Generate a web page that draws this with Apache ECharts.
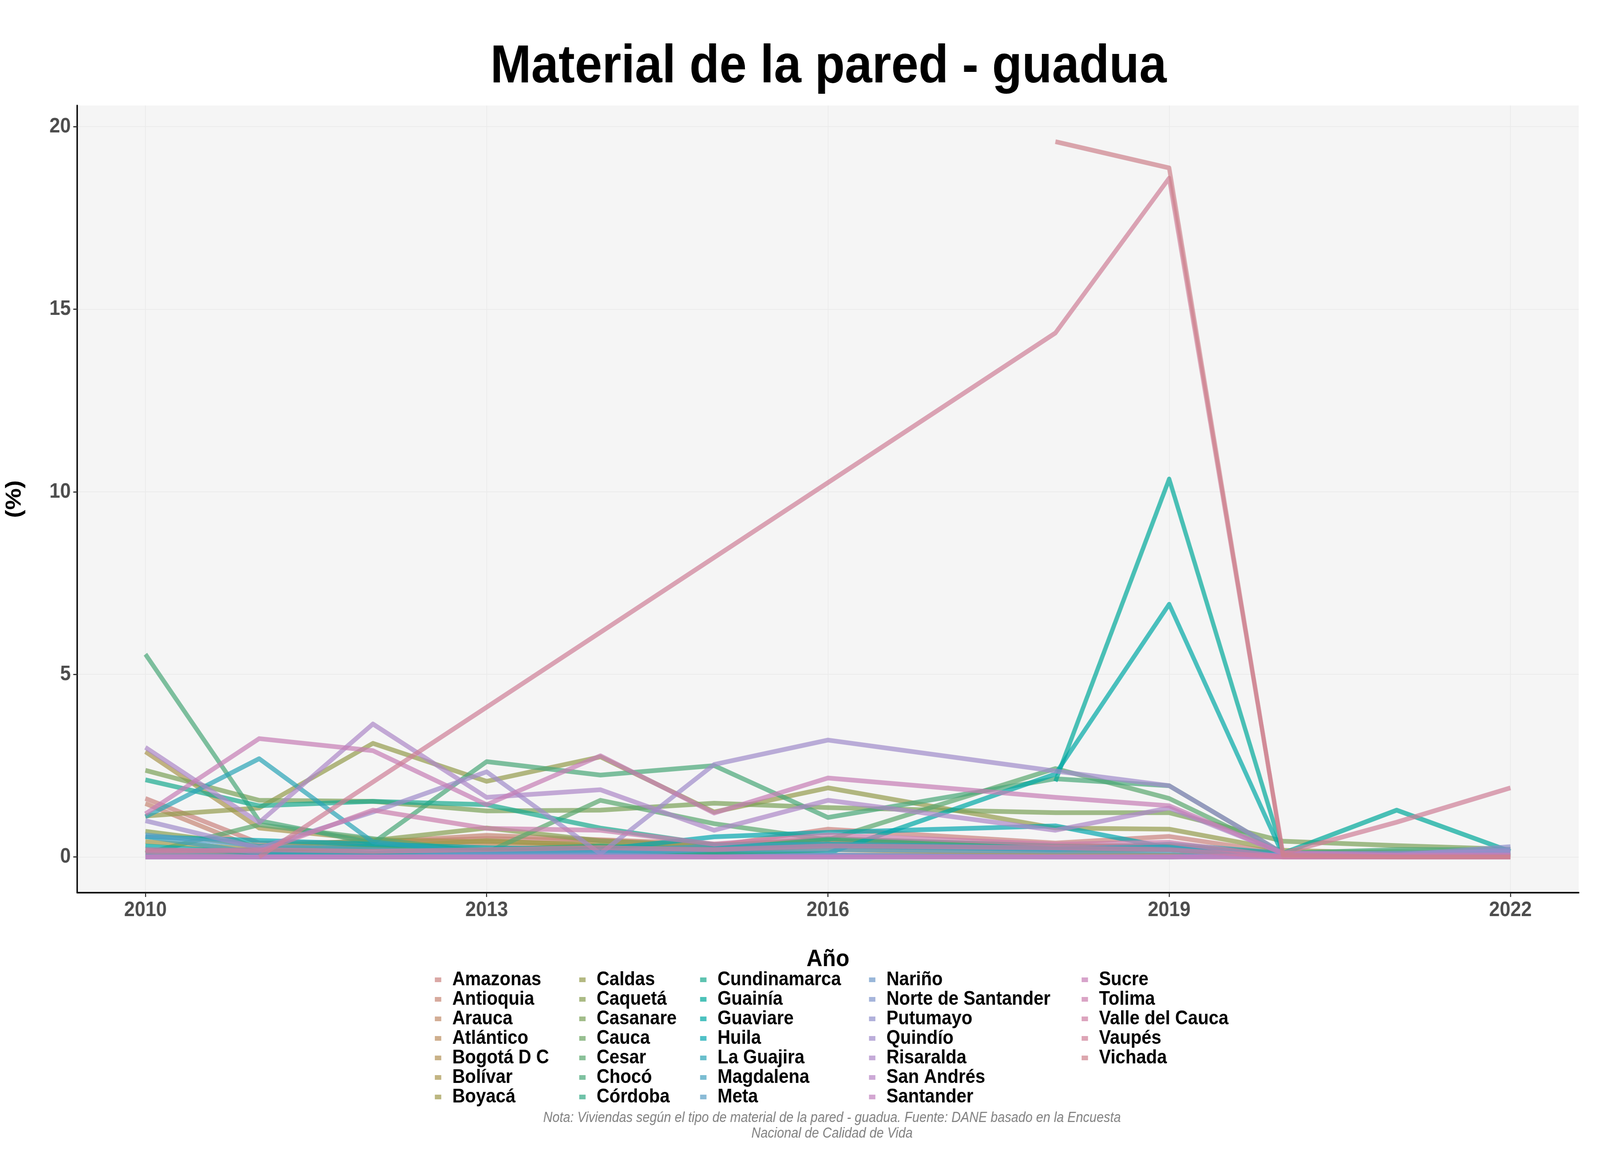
<!DOCTYPE html>
<html>
<head>
<meta charset="utf-8">
<script src="https://cdn.jsdelivr.net/npm/echarts@6/dist/echarts.min.js"></script>
<style>
html,body{margin:0;padding:0;background:#ffffff;overflow:hidden;width:100%;height:100%;}
#wrap{position:absolute;left:0;top:0;width:100vw;height:100vh;overflow:hidden;background:#ffffff;}
#chart{position:absolute;left:0;top:0;width:4500px;height:3000px;transform-origin:0 0;}
</style>
</head>
<body>
<div id="wrap"><div id="chart"></div></div>
<script>
// ---------- DATA ----------
const years = [2010, 2011, 2012, 2013, 2014, 2015, 2016, 2018, 2019, 2020, 2021, 2022];
const departments = ["Amazonas","Antioquia","Arauca","Atlántico","Bogotá D C","Bolívar","Boyacá",
  "Caldas","Caquetá","Casanare","Cauca","Cesar","Chocó","Córdoba",
  "Cundinamarca","Guainía","Guaviare","Huila","La Guajira","Magdalena","Meta",
  "Nariño","Norte de Santander","Putumayo","Quindío","Risaralda","San Andrés","Santander",
  "Sucre","Tolima","Valle del Cauca","Vaupés","Vichada"];
const xTicks = [2010, 2013, 2016, 2019, 2022];
const yTicks = [0, 5, 10, 15, 20];

const vAmazonas     = [1.60, 0.38, 0.41, 0.50, 0.45, 0.30, 0.76, 0.38, 0.56, 0.10, 0.05, 0.05];
const vAntioquia    = [1.46, 0.20, 0.40, 0.59, 0.47, 0.35, 0.45, 0.30, 0.30, 0.08, 0.05, 0.05];
const vArauca       = [0.10, 0.15, 0.30, 0.35, 0.30, 0.25, 0.45, 0.30, 0.25, 0.05, 0.02, 0.02];
const vAtlantico    = [0.05, 0.05, 0.05, 0.05, 0.05, 0.05, 0.05, 0.05, 0.05, 0.02, 0.02, 0.02];
const vBogota       = [0.05, 0.05, 0.10, 0.20, 0.10, 0.05, 0.20, 0.10, 0.05, 0.02, 0.01, 0.01];
const vBolivar      = [2.88, 0.79, 0.47, 0.41, 0.35, 0.15, 0.30, 0.20, 0.20, 0.05, 0.05, 0.05];
const vBoyaca       = [0.42, 0.20, 0.25, 0.45, 0.30, 0.15, 0.35, 0.25, 0.20, 0.05, 0.05, 0.05];
const vCaldas       = [1.12, 1.34, 3.11, 2.07, 2.74, 1.23, 1.89, 0.79, 0.76, 0.18, 0.10, 0.10];
const vCaqueta      = [0.70, 0.30, 0.45, 0.79, 0.44, 0.30, 0.50, 0.30, 0.30, 0.10, 0.10, 0.10];
const vCasanare     = [2.37, 1.55, 1.52, 1.26, 1.28, 1.47, 1.35, 1.21, 1.21, 0.43, 0.31, 0.21];
const vCauca        = [0.20, 0.10, 0.25, 0.15, 0.20, 0.25, 0.30, 0.20, 0.20, 0.05, 0.10, 0.12];
const vCesar        = [0.10, 0.88, 0.50, 0.12, 1.55, 0.91, 0.47, 2.42, 1.60, 0.10, 0.15, 0.12];
const vChoco        = [5.55, 0.99, 0.38, 2.61, 2.24, 2.50, 1.08, 2.14, 1.95, 0.10, 0.20, 0.20];
const vCordoba      = [0.15, 0.20, 0.30, 0.20, 0.30, 0.20, 0.50, 0.30, 0.20, 0.05, 0.10, 0.10];
const vCundinamarca = [2.11, 1.40, 1.52, 1.43, 0.79, 0.33, 0.35, 0.25, 0.20, 0.05, 0.10, 0.10];
const vGuainia      = [null, null, null, null, null, null, null, 2.07, 10.35, 0.10, 1.28, 0.15];
const vGuaviare     = [0.30, 0.10, 0.05, 0.05, 0.10, 0.10, 0.10, 2.27, 6.92, 0.05, 0.05, 0.05];
const vHuila        = [0.55, 0.45, 0.35, 0.25, 0.20, 0.55, 0.67, 0.85, 0.25, 0.05, 0.05, 0.10];
const vLaGuajira    = [1.10, 2.69, 0.41, 0.10, 0.15, 0.20, 0.30, 0.20, 0.35, 0.10, 0.05, 0.05];
const vMagdalena    = [0.56, 0.10, 0.10, 0.10, 0.15, 0.30, 0.35, 0.25, 0.25, 0.05, 0.05, 0.05];
const vMeta         = [0.60, 0.30, 0.20, 0.10, 0.10, 0.20, 0.20, 0.15, 0.15, 0.05, 0.05, 0.10];
const vNarino       = [0.00, 0.00, 0.00, 0.05, 0.05, 0.00, 0.05, 0.00, 0.00, 0.05, 0.05, 0.15];
const vNorteSant    = [0.10, 0.00, 0.00, 0.00, 0.05, 0.00, 0.05, 0.00, 0.00, 0.05, 0.05, 0.20];
const vPutumayo     = [0.00, 0.00, 0.00, 0.00, 0.00, 0.00, 0.00, 0.00, 0.00, 0.05, 0.05, 0.28];
const vQuindio      = [0.99, 0.24, 1.23, 2.33, 0.09, 2.53, 3.20, 2.35, 1.95, 0.10, 0.10, 0.15];
const vRisaralda    = [3.00, 0.94, 3.64, 1.63, 1.84, 0.73, 1.55, 0.73, 1.34, 0.10, 0.05, 0.05];
const vSanAndres    = [0.00, 0.00, 0.00, 0.00, 0.00, 0.00, 0.00, 0.00, 0.00, 0.00, 0.00, 0.00];
const vSantander    = [0.00, 0.00, 0.00, 0.00, 0.00, 0.00, 0.00, 0.00, 0.00, 0.00, 0.00, 0.00];
const vSucre        = [1.18, 3.24, 2.91, 1.43, 2.77, 1.20, 2.16, 1.63, 1.40, 0.10, 0.05, 0.05];
const vTolima       = [0.20, 0.15, 1.28, 0.78, 0.73, 0.35, 0.60, 0.35, 0.40, 0.00, 0.00, 0.00];
const vValle        = [0.15, 0.20, 0.15, 0.20, 0.25, 0.20, 0.30, 0.25, 0.20, 0.00, 0.00, 0.00];
const vVaupes       = [null, 0.00, null, null, null, null, null, 14.35, 18.59, 0.10, 0.95, 1.89];
const vVichada      = [null, null, null, null, null, null, null, 19.59, 18.87, 0.05, 0.00, 0.00];

const seriesValues = [vAmazonas, vAntioquia, vArauca, vAtlantico, vBogota, vBolivar, vBoyaca,
  vCaldas, vCaqueta, vCasanare, vCauca, vCesar, vChoco, vCordoba,
  vCundinamarca, vGuainia, vGuaviare, vHuila, vLaGuajira, vMagdalena, vMeta,
  vNarino, vNorteSant, vPutumayo, vQuindio, vRisaralda, vSanAndres, vSantander,
  vSucre, vTolima, vValle, vVaupes, vVichada];

// ---------- COLOURS (HCL hue palette) ----------
function hcl(h, c, l) {
  const hr = h * Math.PI / 180;
  const u = c * Math.cos(hr), v = c * Math.sin(hr);
  const Y = l > 8 ? Math.pow((l + 16) / 116, 3) : l / 903.3;
  const un = 0.1978398, vn = 0.4683363;
  const up = u / (13 * l) + un, vp = v / (13 * l) + vn;
  const X = Y * 9 * up / (4 * vp);
  const Z = Y * (12 - 3 * up - 20 * vp) / (4 * vp);
  const lin = [
    3.2404542 * X - 1.5371385 * Y - 0.4985314 * Z,
    -0.9692660 * X + 1.8760108 * Y + 0.0415560 * Z,
    0.0556434 * X - 0.2040259 * Y + 1.0572252 * Z
  ];
  return '#' + lin.map(x => {
    x = Math.max(0, Math.min(1, x));
    const s = x <= 0.0031308 ? 12.92 * x : 1.055 * Math.pow(x, 1 / 2.4) - 0.055;
    return Math.round(s * 255).toString(16).padStart(2, '0');
  }).join('');
}
const n = departments.length;
const colors = departments.map((d, i) => hcl((15 + 360 * i / n) % 360, 50, 62));

// ---------- OPTION ----------
const series = departments.map((name, i) => ({
  name: name,
  type: 'line',
  data: years.map((y, k) => [y, seriesValues[i][k]]).filter(p => p[1] !== null),
  showSymbol: false,
  symbol: 'none',
  color: colors[i],
  itemStyle: { color: colors[i] },
  lineStyle: { width: 12, opacity: 0.7, join: 'round', cap: 'butt' },
  emphasis: { disabled: true },
  animation: false
}));

const legendCols = [[0, 7], [7, 14], [14, 21], [21, 28], [28, 33]];
const legendLeft = [1218, 1624, 1964, 2439, 3037];
const legends = legendCols.map((r, j) => ({
  orient: 'vertical',
  left: legendLeft[j],
  top: 2478,
  itemWidth: 18,
  itemHeight: 12,
  itemGap: 0,
  icon: 'rect',
  selectedMode: false,
  data: departments.slice(r[0], r[1]),
  itemStyle: { opacity: 0.7, borderWidth: 0 },
  lineStyle: { width: 0 },
  textStyle: {
    fontFamily: 'Liberation Sans', fontWeight: 'bold', fontSize: 50, color: '#000000',
    lineHeight: 50, padding: [0, 0, 0, 26]
  }
}));

const option = {
  backgroundColor: '#ffffff',
  animation: false,
  legend: legends,
  grid: {
    left: 217, right: 60, top: 270, bottom: 715,
    show: true, backgroundColor: '#f5f5f5', borderWidth: 0, containLabel: false
  },
  xAxis: {
    type: 'value', min: 2009.4, max: 2022.6,
    name: 'Año', nameLocation: 'middle', nameGap: 140,
    nameTextStyle: { fontFamily: 'Liberation Sans', fontWeight: 'bold', fontSize: 62, color: '#000000' },
    axisLine: { show: true, onZero: false, lineStyle: { color: '#000000', width: 4 } },
    axisTick: { show: true, customValues: xTicks, length: 11, lineStyle: { color: '#333333', width: 3 } },
    axisLabel: {
      customValues: xTicks, margin: 18,
      fontFamily: 'Liberation Sans', fontWeight: 'bold', fontSize: 54, color: '#4d4d4d',
      formatter: v => String(v)
    },
    splitLine: { show: true, lineStyle: { color: '#ebebeb', width: 2 } }
  },
  yAxis: {
    type: 'value', min: -0.98, max: 20.58,
    name: '(%)', nameLocation: 'middle', nameGap: 145, nameRotate: 90,
    nameTextStyle: { fontFamily: 'Liberation Sans', fontWeight: 'bold', fontSize: 62, color: '#000000' },
    axisLine: { show: true, onZero: false, lineStyle: { color: '#000000', width: 4 } },
    axisTick: { show: true, customValues: yTicks, length: 11, lineStyle: { color: '#333333', width: 3 } },
    axisLabel: {
      customValues: yTicks, margin: 18,
      fontFamily: 'Liberation Sans', fontWeight: 'bold', fontSize: 54, color: '#4d4d4d',
      formatter: v => String(v)
    },
    splitLine: { show: true, lineStyle: { color: '#ebebeb', width: 2 } }
  },
  graphic: [
    {
      type: 'text', x: 2330, y: 173, z: 100,
      style: {
        text: 'Material de la pared - guadua',
        font: 'bold 138px "Liberation Sans"', fill: '#000000',
        textAlign: 'center', textVerticalAlign: 'middle'
      }
    },
    {
      type: 'text', x: 2340, y: 2882, z: 100,
      style: {
        text: 'Nota: Viviendas según el tipo de material de la pared - guadua. Fuente: DANE basado en la Encuesta\nNacional de Calidad de Vida',
        font: 'italic 36px "Liberation Sans"', fill: '#808080', lineHeight: 40,
        textAlign: 'center', textVerticalAlign: 'middle'
      }
    }
  ],
  series: series
};

// Fill whatever viewport the page is photographed in with the 4500x3000 design.
const W = 4500, H = 3000;
const vw = window.innerWidth || document.documentElement.clientWidth || W;
const vh = window.innerHeight || document.documentElement.clientHeight || H;
const sx = vw / W, sy = vh / H;
const el = document.getElementById('chart');
el.style.transform = 'scale(' + sx + ',' + sy + ')';
const dpr = (window.devicePixelRatio || 1) * Math.max(sx, sy);
const chart = echarts.init(el, null, { renderer: 'canvas', width: W, height: H, devicePixelRatio: dpr });
chart.setOption(option);
</script>
</body>
</html>
